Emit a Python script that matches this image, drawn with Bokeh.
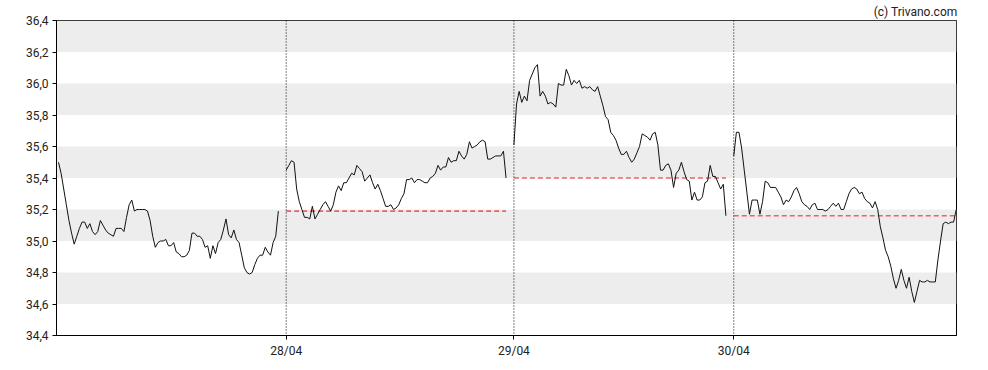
import numpy as np
from bokeh.plotting import figure
from bokeh.models import (Range1d, FixedTicker, CustomJSTickFormatter, Span,
                          BoxAnnotation, ColumnDataSource)
from bokeh.embed import file_html
from bokeh.resources import INLINE

# ---- data -------------------------------------------------------------
tick_labels = ["28/04", "29/04", "30/04"]
y_ticks = [34.4, 34.6, 34.8, 35.0, 35.2, 35.4, 35.6, 35.8, 36.0, 36.2, 36.4]
band_bottoms = [34.6, 35.0, 35.4, 35.8, 36.2]
credit = "(c) Trivano.com"

day1 = [35.50, 35.43, 35.33, 35.23, 35.13, 35.05, 34.98, 35.03, 35.08, 35.12,
        35.12, 35.08, 35.11, 35.06, 35.04, 35.06, 35.13, 35.10, 35.07, 35.05,
        35.04, 35.03, 35.08, 35.08, 35.08, 35.06, 35.15, 35.23, 35.26, 35.19,
        35.20, 35.20, 35.20, 35.20, 35.19, 35.13, 35.03, 34.96, 34.99, 35.00,
        35.00, 35.01, 34.97, 34.97, 34.99, 34.93, 34.92, 34.90, 34.90, 34.91,
        34.94, 35.05, 35.05, 35.03, 35.03, 35.01, 34.96, 34.97, 34.89, 34.97,
        34.92, 34.99, 35.01, 35.07, 35.14, 35.04, 35.02, 35.07, 35.01, 34.99,
        34.91, 34.83, 34.80, 34.79, 34.80, 34.85, 34.89, 34.91, 34.91, 34.96,
        34.93, 34.91, 34.99, 35.03, 35.19]

day2 = [35.45, 35.48, 35.51, 35.50, 35.33, 35.25, 35.20, 35.15, 35.15, 35.14,
        35.22, 35.14, 35.17, 35.20, 35.23, 35.25, 35.22, 35.19, 35.23, 35.31,
        35.35, 35.32, 35.37, 35.37, 35.40, 35.43, 35.42, 35.48, 35.46, 35.44,
        35.38, 35.40, 35.42, 35.37, 35.33, 35.36, 35.32, 35.27, 35.22, 35.22,
        35.23, 35.20, 35.21, 35.23, 35.27, 35.30, 35.39, 35.39, 35.40, 35.37,
        35.39, 35.39, 35.38, 35.37, 35.37, 35.40, 35.41, 35.43, 35.48, 35.45,
        35.47, 35.47, 35.53, 35.50, 35.51, 35.51, 35.57, 35.54, 35.52, 35.55,
        35.63, 35.59, 35.60, 35.61, 35.63, 35.64, 35.63, 35.52, 35.52, 35.53,
        35.54, 35.54, 35.54, 35.57, 35.40]

day3 = [35.61, 35.87, 35.95, 35.88, 35.92, 35.89, 36.02, 36.06, 36.10, 36.12,
        35.92, 35.95, 35.92, 35.87, 35.88, 35.87, 35.85, 36.00, 35.99, 35.99,
        36.09, 36.05, 35.99, 36.02, 36.00, 36.02, 35.97, 35.98, 35.97, 35.98,
        35.96, 35.95, 35.98, 35.92, 35.86, 35.79, 35.77, 35.69, 35.67, 35.64,
        35.59, 35.55,
        35.55, 35.57, 35.53, 35.50, 35.52, 35.56, 35.60, 35.68, 35.67, 35.66,
        35.64, 35.68, 35.69, 35.61, 35.45, 35.45, 35.48, 35.49, 35.45, 35.34,
        35.43, 35.45, 35.50, 35.44, 35.39, 35.38, 35.26, 35.31, 35.26, 35.26,
        35.28, 35.37, 35.38, 35.48, 35.41, 35.41, 35.37, 35.33, 35.36, 35.16]

day4 = [35.54, 35.69, 35.69, 35.59, 35.45, 35.31, 35.17, 35.26, 35.26, 35.26,
        35.17, 35.25, 35.38, 35.37, 35.34, 35.34, 35.34, 35.31, 35.28, 35.23,
        35.26, 35.25, 35.28, 35.32, 35.34, 35.30, 35.25, 35.23, 35.22, 35.20,
        35.23, 35.24, 35.20, 35.20, 35.20, 35.19, 35.20, 35.22, 35.24, 35.22,
        35.24, 35.20, 35.20, 35.25,
        35.30, 35.33, 35.34, 35.33, 35.30, 35.31, 35.27, 35.25, 35.24, 35.21,
        35.25, 35.20, 35.09, 35.02, 34.94, 34.90, 34.84, 34.76, 34.70, 34.75,
        34.82, 34.75, 34.70, 34.77, 34.68, 34.61, 34.68, 34.75, 34.74, 34.74,
        34.75, 34.74, 34.74, 34.74, 34.88, 35.00, 35.11, 35.12, 35.11, 35.12,
        35.12, 35.20]

days = [day1, day2, day3, day4]
GAP = 3  # index slots between the last point of a day and the next day's first

# ---- build positions (sample index) ----------------------------------
line_xs, line_ys, starts, ends = [], [], [], []
pos = 0
for d in days:
    idx = pos + np.arange(len(d))
    line_xs.append(list(idx))
    line_ys.append(list(d))
    starts.append(int(idx[0]))
    ends.append(int(idx[-1]))
    pos = int(idx[-1]) + GAP

prev_close = ColumnDataSource(dict(
    x0=starts[1:], x1=ends[1:], y=[d[-1] for d in days[:-1]]))

# ---- figure -----------------------------------------------------------
p = figure(width=980, height=362, output_backend="svg", toolbar_location=None,
           x_range=Range1d(-0.76, ends[-1] + 0.1), y_range=Range1d(34.4, 36.4),
           min_border_left=56, min_border_right=24, min_border_top=20,
           min_border_bottom=27, title=credit)
p.title.align = "right"
p.title.text_font = "Roboto"
p.title.text_font_size = "12px"
p.title.text_font_style = "normal"
p.title.text_color = "#222222"
p.title.standoff = 4
p.title.offset = -1

p.background_fill_color = "white"
p.border_fill_color = "white"
p.outline_line_color = "black"
p.outline_line_width = 1
p.xgrid.visible = False
p.ygrid.visible = False

for b in band_bottoms:
    p.add_layout(BoxAnnotation(bottom=b, top=round(b + 0.2, 1), fill_color="#EDEDED",
                               fill_alpha=1.0, line_alpha=0, level="underlay"))

for s in starts[1:]:
    p.add_layout(Span(location=s, dimension="height", line_color="black",
                      line_width=1, line_dash="1 2"))

p.segment(x0="x0", y0="y", x1="x1", y1="y", source=prev_close,
          line_color="#EE6262", line_width=1.6, line_dash="5 3")

p.multi_line(xs=line_xs, ys=line_ys, line_color="#111111", line_width=1)

# axes
font = "Roboto"
p.yaxis.ticker = FixedTicker(ticks=y_ticks)
p.yaxis.formatter = CustomJSTickFormatter(code="return tick.toFixed(1).replace('.', ',');")
p.xaxis.ticker = FixedTicker(ticks=starts[1:])
p.xaxis.major_label_overrides = {s: lab for s, lab in zip(starts[1:], tick_labels)}
for ax in (p.xaxis[0], p.yaxis[0]):
    ax.axis_line_color = "black"
    ax.major_tick_line_color = "black"
    ax.major_tick_out = 4
    ax.major_tick_in = 0
    ax.minor_tick_line_color = None
    ax.major_label_standoff = 4
    ax.major_label_text_font = font
    ax.major_label_text_font_size = "12px"
    ax.major_label_text_color = "#222222"

open("out.html", "w").write(file_html(p, INLINE))
